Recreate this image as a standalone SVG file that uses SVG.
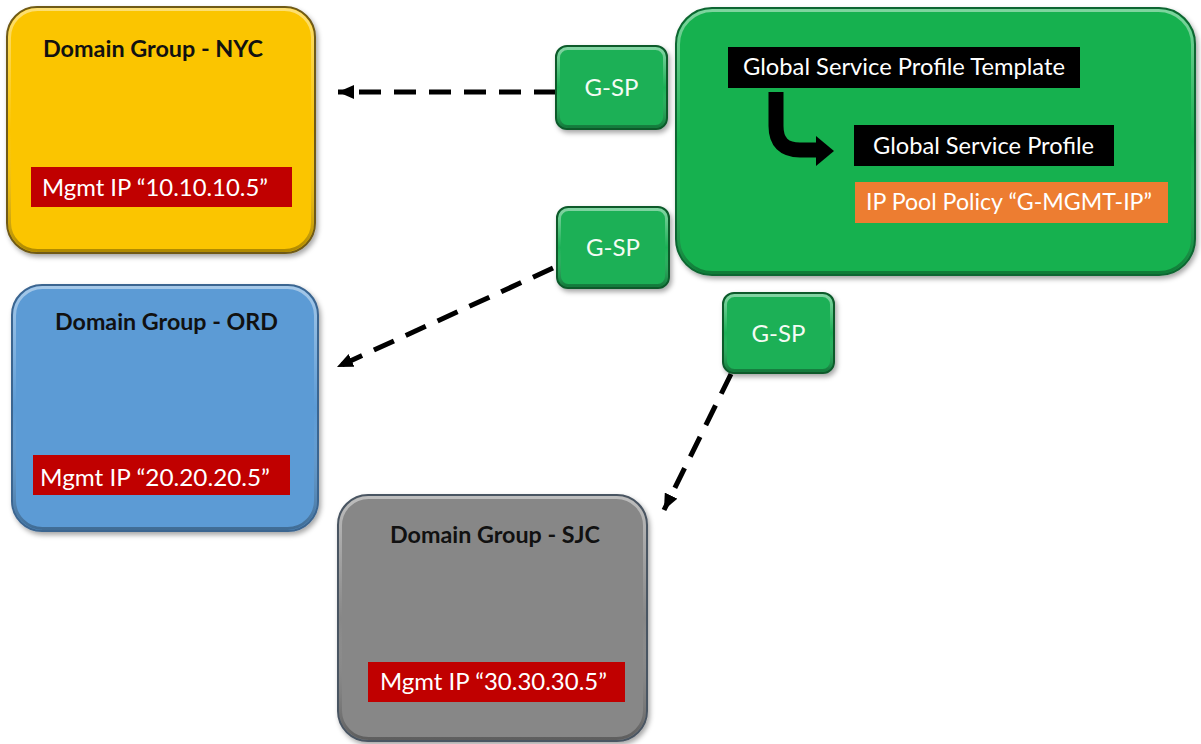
<svg xmlns="http://www.w3.org/2000/svg" width="1201" height="744" viewBox="0 0 1201 744">
  <defs>
    <style>
      .title { font-family: Lato, "Liberation Sans", sans-serif; font-weight: bold; font-size: 22px; fill: #111; }
      .lbl { font-family: Lato, "Liberation Sans", sans-serif; font-size: 23.5px; fill: #fff; }
      .gsp { font-family: Lato, "Liberation Sans", sans-serif; font-size: 24px; fill: #f4fbf4; text-anchor: middle; }
      .conn { fill: none; stroke: #000; stroke-width: 5; stroke-dasharray: 22 13; }
      .rim { fill: none; stroke: url(#rimGrad); stroke-width: 3; }
    </style>
    <linearGradient id="rimGrad" x1="0" y1="0" x2="0" y2="1">
      <stop offset="0" stop-color="#fff" stop-opacity="0.45"/>
      <stop offset="0.5" stop-color="#fff" stop-opacity="0"/>
      <stop offset="1" stop-color="#000" stop-opacity="0.3"/>
    </linearGradient>
    <filter id="shadow" x="-10%" y="-10%" width="125%" height="125%">
      <feDropShadow dx="2" dy="3" stdDeviation="2.5" flood-color="#000" flood-opacity="0.35"/>
    </filter>
    <marker id="head" markerUnits="userSpaceOnUse" markerWidth="18" markerHeight="14" refX="16" refY="7" orient="auto">
      <path d="M0,0 L16,7 L0,14 Z" fill="#000"/>
    </marker>
  </defs>

  <!-- connectors: each G-SP pushed out to a domain group -->
  <g id="connectors">
    <path class="conn" d="M556,92 L338,92" marker-end="url(#head)"/>
    <path class="conn" d="M553,268 L337,367" marker-end="url(#head)"/>
    <path class="conn" d="M731,374 L664,510" marker-end="url(#head)"/>
  </g>

  <!-- Domain Group - NYC -->
  <g id="dg-nyc">
    <rect x="7" y="7" width="308" height="246" rx="30" fill="#fbc500" stroke="#6f5a14" stroke-width="2" filter="url(#shadow)"/>
    <rect x="9.5" y="9.5" width="303" height="241" rx="28" class="rim"/>
    <text class="title" x="43" y="57" textLength="220" lengthAdjust="spacingAndGlyphs">Domain Group - NYC</text>
    <rect x="31" y="167" width="261" height="40" fill="#c00000"/>
    <text class="lbl" x="42" y="196" textLength="226" lengthAdjust="spacingAndGlyphs">Mgmt IP “10.10.10.5”</text>
  </g>

  <!-- Domain Group - ORD -->
  <g id="dg-ord">
    <rect x="12" y="285" width="306" height="246" rx="30" fill="#5b9bd5" stroke="#3b6590" stroke-width="2" filter="url(#shadow)"/>
    <rect x="14.5" y="287.5" width="301" height="241" rx="28" class="rim"/>
    <text class="title" x="55" y="330" textLength="223" lengthAdjust="spacingAndGlyphs">Domain Group - ORD</text>
    <rect x="33" y="455" width="257" height="40" fill="#c00000"/>
    <text class="lbl" x="40" y="486" textLength="230" lengthAdjust="spacingAndGlyphs">Mgmt IP “20.20.20.5”</text>
  </g>

  <!-- Domain Group - SJC -->
  <g id="dg-sjc">
    <rect x="338" y="495" width="309" height="246" rx="30" fill="#878787" stroke="#4a5562" stroke-width="2" filter="url(#shadow)"/>
    <rect x="340.5" y="497.5" width="304" height="241" rx="28" class="rim"/>
    <text class="title" x="390" y="543" textLength="210" lengthAdjust="spacingAndGlyphs">Domain Group - SJC</text>
    <rect x="368" y="662" width="257" height="40" fill="#c00000"/>
    <text class="lbl" x="380" y="690" textLength="227" lengthAdjust="spacingAndGlyphs">Mgmt IP “30.30.30.5”</text>
  </g>

  <!-- Global service profile template container -->
  <g id="global-template">
    <rect x="676" y="8" width="519" height="267" rx="36" fill="#13b14f" stroke="#0d6630" stroke-width="2" filter="url(#shadow)"/>
    <rect x="678.5" y="10.5" width="514" height="262" rx="34" class="rim"/>
    <rect x="728" y="47" width="352" height="41" fill="#000"/>
    <text class="lbl" x="743" y="75" textLength="322" lengthAdjust="spacingAndGlyphs">Global Service Profile Template</text>
    <path d="M776,92 V126 Q776,150 800,150 H818" fill="none" stroke="#000" stroke-width="15"/>
    <path d="M816,136 L834,151 L816,166 Z" fill="#000"/>
    <rect x="854" y="125" width="260" height="41" fill="#000"/>
    <text class="lbl" x="873" y="154" textLength="221" lengthAdjust="spacingAndGlyphs">Global Service Profile</text>
    <rect x="855" y="182" width="313" height="41" fill="#ed7d31"/>
    <text class="lbl" x="866" y="210" textLength="286" lengthAdjust="spacingAndGlyphs" fill="#fbeee4">IP Pool Policy “G-MGMT-IP”</text>
  </g>

  <!-- G-SP instances -->
  <g id="gsp-1">
    <rect x="556" y="46" width="111" height="83" rx="11" fill="#1cb056" stroke="#0c5a2c" stroke-width="2" filter="url(#shadow)"/>
    <rect x="558.5" y="48.5" width="106" height="78" rx="9" class="rim"/>
    <text class="gsp" x="611.5" y="96">G-SP</text>
  </g>
  <g id="gsp-2">
    <rect x="557" y="207" width="112" height="81" rx="11" fill="#1cb056" stroke="#0c5a2c" stroke-width="2" filter="url(#shadow)"/>
    <rect x="559.5" y="209.5" width="107" height="76" rx="9" class="rim"/>
    <text class="gsp" x="613" y="256">G-SP</text>
  </g>
  <g id="gsp-3">
    <rect x="723" y="293" width="111" height="80" rx="11" fill="#1cb056" stroke="#0c5a2c" stroke-width="2" filter="url(#shadow)"/>
    <rect x="725.5" y="295.5" width="106" height="75" rx="9" class="rim"/>
    <text class="gsp" x="778.5" y="342">G-SP</text>
  </g>
</svg>
